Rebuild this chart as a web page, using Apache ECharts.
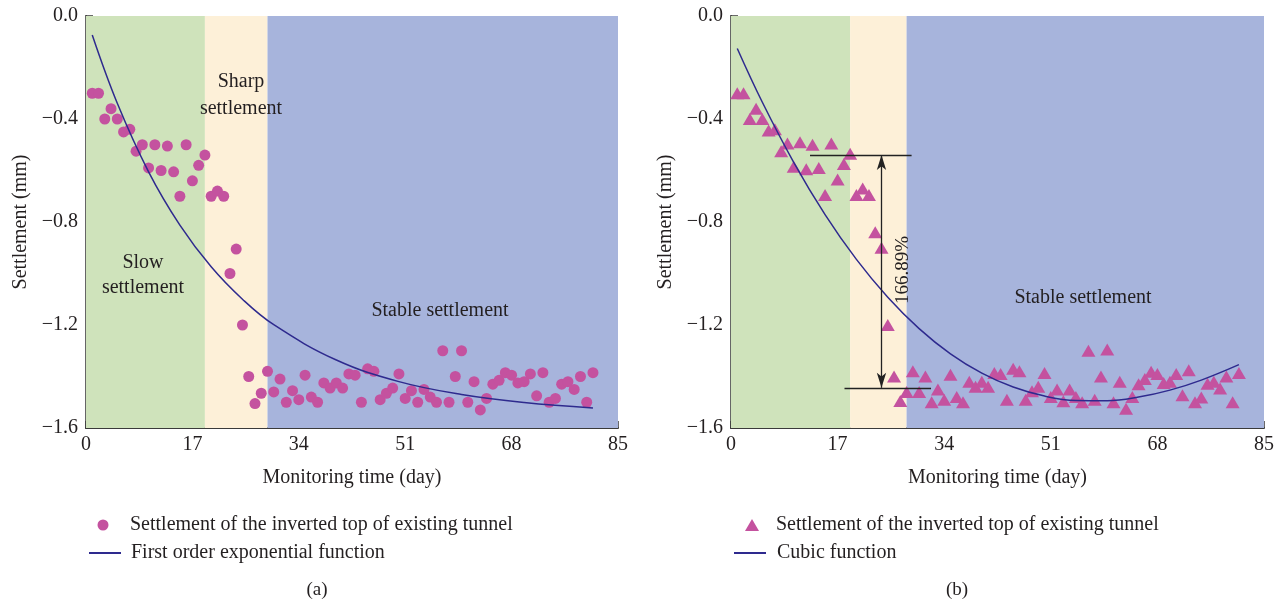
<!DOCTYPE html>
<html><head><meta charset="utf-8">
<script src="https://cdn.jsdelivr.net/npm/echarts@6/dist/echarts.min.js"></script>
<style>html,body{margin:0;padding:0;background:#fff}#c{width:1277px;height:608px}</style>
</head><body><div id="c"></div>
<script>
// ---- data ----
const days = [];
for (let d = 1; d <= 81; d++) days.push(d);
const settlementA = [
 -0.30,-0.30,-0.40,-0.36,-0.40,-0.45,-0.44,-0.525,-0.50,-0.59,
 -0.50,-0.60,-0.505,-0.605,-0.70,-0.50,-0.64,-0.58,-0.54,-0.70,
 -0.68,-0.70,-1.00,-0.905,-1.20,-1.40,-1.505,-1.465,-1.38,-1.46,
 -1.41,-1.50,-1.455,-1.49,-1.395,-1.48,-1.50,-1.425,-1.445,-1.425,
 -1.445,-1.39,-1.395,-1.50,-1.37,-1.38,-1.49,-1.465,-1.445,-1.39,
 -1.485,-1.455,-1.50,-1.45,-1.48,-1.50,-1.30,-1.50,-1.40,-1.30,
 -1.50,-1.42,-1.53,-1.485,-1.43,-1.415,-1.385,-1.395,-1.425,-1.42,
 -1.39,-1.475,-1.385,-1.50,-1.485,-1.43,-1.42,-1.45,-1.40,-1.50,-1.385];
const settlementB = [
 -0.30,-0.30,-0.40,-0.36,-0.40,-0.445,-0.44,-0.525,-0.495,-0.585,
 -0.49,-0.595,-0.50,-0.59,-0.695,-0.495,-0.635,-0.575,-0.535,-0.695,
 -0.67,-0.695,-0.84,-0.90,-1.20,-1.40,-1.495,-1.46,-1.38,-1.46,
 -1.40,-1.50,-1.45,-1.49,-1.393,-1.48,-1.50,-1.42,-1.44,-1.42,
 -1.44,-1.386,-1.39,-1.49,-1.37,-1.38,-1.49,-1.457,-1.44,-1.386,
 -1.48,-1.45,-1.496,-1.45,-1.48,-1.50,-1.30,-1.49,-1.40,-1.295,
 -1.50,-1.42,-1.525,-1.48,-1.43,-1.41,-1.382,-1.39,-1.425,-1.42,
 -1.39,-1.473,-1.376,-1.50,-1.482,-1.428,-1.42,-1.447,-1.40,-1.50,-1.386];
const fitDaysA = [1,5,10,15,20,25,30,40,50,60,70,81];
const fitA = [-0.074,-0.339,-0.605,-0.812,-0.974,-1.100,-1.199,-1.336,-1.420,-1.470,-1.501,-1.522];
const fitDaysB = [1,5,10,15,20,25,30,35,40,45,50,55,60,65,70,75,81];
const fitB = [-0.126,-0.335,-0.568,-0.771,-0.945,-1.092,-1.214,-1.312,-1.387,-1.441,-1.476,-1.493,-1.494,-1.480,-1.453,-1.414,-1.354];
const stagesA = [[0,19],[19,29],[29,85]];
const stagesB = [[0,19],[19,28],[28,85]];
const xTicks = [0,17,34,51,68,85];
const yTicks = [0,-0.4,-0.8,-1.2,-1.6];
const scatterName = 'Settlement of the inverted top of existing tunnel';
const fitNameA = 'First order exponential function';
const fitNameB = 'Cubic function';
// annotation (panel b): settlement before/after sharp stage
const annoTop = -0.54, annoBottom = -1.444, annoX = 24;

// ---- styles ----
const FONT = '"Liberation Serif","DejaVu Serif",serif';
const TXT = '#231f20';
const PINK = '#c4529f';
const NAVY = '#2e2a8e';
const stageColors = ['#cfe3bb', '#fdf0d8', '#a7b4dc'];

const chart = echarts.init(document.getElementById('c'));
const pairs = (xs, ys) => xs.map((x, i) => [x, ys[i]]);
const fmtY = v => v === 0 ? '0.0' : '\u2212' + Math.abs(v).toFixed(1);

function xAxis(gi) {
  return {
    gridIndex: gi, type: 'value', min: xTicks[0], max: xTicks[xTicks.length-1], interval: 17,
    name: 'Monitoring time (day)', nameLocation: 'middle', nameGap: 40,
    nameTextStyle: {fontFamily: FONT, fontSize: 20, color: TXT},
    axisLine: {show: true, onZero: false, lineStyle: {color: '#3a3a3a', width: 2}},
    axisTick: {show: true, inside: true, length: 7, lineStyle: {color: '#3a3a3a', width: 1.5}},
    axisLabel: {fontFamily: FONT, fontSize: 20, color: TXT, margin: 7},
    splitLine: {show: false}
  };
}
function yAxis(gi) {
  return {
    gridIndex: gi, type: 'value', min: yTicks[yTicks.length-1], max: yTicks[0], interval: 0.4,
    name: 'Settlement (mm)', nameLocation: 'middle', nameGap: 55, nameRotate: 90,
    nameTextStyle: {fontFamily: FONT, fontSize: 20, color: TXT},
    axisLine: {show: true, onZero: false, lineStyle: {color: '#3a3a3a', width: 2}},
    axisTick: {show: true, inside: true, length: 7, lineStyle: {color: '#3a3a3a', width: 1.5}},
    axisLabel: {fontFamily: FONT, fontSize: 20, color: TXT, margin: 8, formatter: fmtY},
    splitLine: {show: false}
  };
}
function rightBorder(gi) {
  return {gridIndex: gi, type: 'value', position: 'right', min: -1.6, max: 0,
    axisLine: {show: true, lineStyle: {color: '#666', width: 2}},
    axisTick: {show: false}, axisLabel: {show: false}, splitLine: {show: false}};
}
function stageArea(stages) {
  return {silent: true, data: stages.map((s, i) => [
    {xAxis: s[0], yAxis: -1.6, itemStyle: {color: stageColors[i]}},
    {xAxis: s[1], yAxis: 0}])};
}
const legText = pad => ({fontFamily: FONT, fontSize: 20, color: TXT, padding: [0, 0, 0, pad]});
const hiddenSym = {color: 'rgba(0,0,0,0)', borderColor: 'rgba(0,0,0,0)', borderWidth: 0, opacity: 0};

const option = {
  animation: false,
  grid: [
    {left: 86, top: 16, width: 532, height: 412},
    {left: 731, top: 16, width: 533, height: 412}
  ],
  xAxis: [xAxis(0), xAxis(1)],
  yAxis: [yAxis(0), yAxis(1), rightBorder(0), rightBorder(1)],
  legend: [
    {left: 97.5, top: 515, padding: 0, itemWidth: 11, itemHeight: 11, data: [scatterName], textStyle: legText(16.5)},
    {left: 88, top: 543, padding: 0, itemWidth: 32, itemHeight: 12, data: [fitNameA], textStyle: legText(5),
     itemStyle: hiddenSym},
    {left: 745, top: 515, padding: 0, itemWidth: 14, itemHeight: 12, data: [scatterName + ' '], textStyle: legText(12)},
    {left: 733, top: 543, padding: 0, itemWidth: 32, itemHeight: 12, data: [fitNameB], textStyle: legText(6),
     itemStyle: hiddenSym}
  ],
  series: [
    {type: 'scatter', name: scatterName, xAxisIndex: 0, yAxisIndex: 0,
     data: pairs(days, settlementA), symbol: 'circle', symbolSize: 11,
     itemStyle: {color: PINK, opacity: 1}, z: 3, markArea: stageArea(stagesA)},
    {type: 'line', name: fitNameA, xAxisIndex: 0, yAxisIndex: 0,
     data: pairs(fitDaysA, fitA), smooth: 0.4, symbol: 'none',
     lineStyle: {color: NAVY, width: 1.5}, itemStyle: {color: NAVY}, z: 4},
    {type: 'scatter', name: scatterName + ' ', xAxisIndex: 1, yAxisIndex: 1,
     data: pairs(days, settlementB), symbol: 'triangle', symbolSize: [14, 12],
     itemStyle: {color: PINK, opacity: 1}, z: 3, markArea: stageArea(stagesB),
     markLine: {silent: true, animation: false, symbol: 'none', label: {show: false},
       lineStyle: {color: '#222', width: 1.3, type: 'solid'},
       data: [
         [{coord: [12.6, annoTop]}, {coord: [28.8, annoTop]}],
         [{coord: [18.1, annoBottom]}, {coord: [31.9, annoBottom]}],
         [{coord: [annoX, annoTop], symbol: 'arrow', symbolSize: [7, 15]},
          {coord: [annoX, annoBottom], symbol: 'arrow', symbolSize: [7, 15]}]
       ]}},
    {type: 'line', name: fitNameB, xAxisIndex: 1, yAxisIndex: 1,
     data: pairs(fitDaysB, fitB), smooth: 0.4, symbol: 'none',
     lineStyle: {color: NAVY, width: 1.5}, itemStyle: {color: NAVY}, z: 4}
  ],
  graphic: [
    {type: 'text', x: 241, y: 82, style: {text: 'Sharp', font: '20px ' + FONT, fill: TXT, align: 'center', verticalAlign: 'middle'}, z: 10},
    {type: 'text', x: 241, y: 109, style: {text: 'settlement', font: '20px ' + FONT, fill: TXT, align: 'center', verticalAlign: 'middle'}, z: 10},
    {type: 'text', x: 143, y: 263, style: {text: 'Slow', font: '20px ' + FONT, fill: TXT, align: 'center', verticalAlign: 'middle'}, z: 10},
    {type: 'text', x: 143, y: 288, style: {text: 'settlement', font: '20px ' + FONT, fill: TXT, align: 'center', verticalAlign: 'middle'}, z: 10},
    {type: 'text', x: 440, y: 311, style: {text: 'Stable settlement', font: '20px ' + FONT, fill: TXT, align: 'center', verticalAlign: 'middle'}, z: 10},
    {type: 'text', x: 1083, y: 298, style: {text: 'Stable settlement', font: '20px ' + FONT, fill: TXT, align: 'center', verticalAlign: 'middle'}, z: 10},
    {type: 'text', x: 903, y: 270, rotation: Math.PI / 2, style: {text: '166.89%', font: '19px ' + FONT, fill: TXT, align: 'center', verticalAlign: 'middle'}, z: 10},
    {type: 'text', x: 317, y: 590, style: {text: '(a)', font: '19px ' + FONT, fill: TXT, align: 'center', verticalAlign: 'middle'}},
    {type: 'text', x: 957, y: 590, style: {text: '(b)', font: '19px ' + FONT, fill: TXT, align: 'center', verticalAlign: 'middle'}}
  ]
};
chart.setOption(option);
</script></body></html>
